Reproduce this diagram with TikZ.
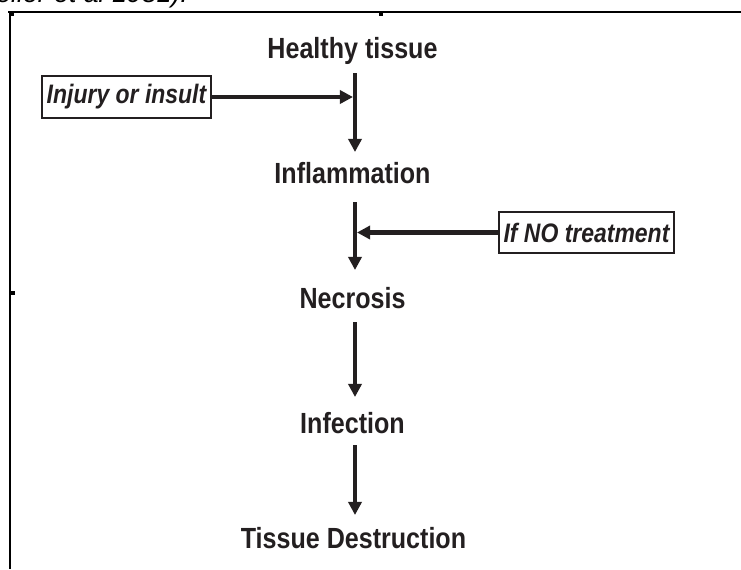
\documentclass[tikz,border=0pt]{standalone}
\usepackage{fontspec}
\setmainfont{Liberation Sans}[FakeStretch=0.86]
\newfontfamily\citefont{Liberation Sans}
\usetikzlibrary{arrows.meta}
\definecolor{ink}{HTML}{231F20}
\tikzset{
  stage/.style={font=\fontsize{16.6}{18}\selectfont\bfseries, text=ink, anchor=base, inner sep=0pt},
  aside/.style={draw=ink, line width=0.6pt, font=\fontsize{15.2}{18}\selectfont\bfseries\itshape, text=ink,
    inner sep=0pt},
  flow/.style={draw=ink, line width=2.5pt, arrows={-{Triangle[width=7.5pt,length=7.5pt]}}},
  frame/.style={line width=0.7pt},
}
\begin{document}
\begin{tikzpicture}[x=0.02cm,y=-0.02cm]
  \useasboundingbox (0,0) rectangle (741,569);
  \clip (0,0) rectangle (741,569);

  % frame left over from the page
  \node[anchor=base west, inner sep=0pt, font=\citefont\fontsize{15.2}{18}\selectfont\itshape] (cite) at (-4,2.5) {oller et al 1981).};
  \draw[frame] (8,12) -- (741,12);
  \draw[frame] (10,12) -- (10,569);
  \fill (10,12) rectangle (14,16);
  \fill (379,12) rectangle (383,16);
  \fill (11,291) rectangle (15,295);

  % the stages
  \node[stage] (healthy) at (352.5,58) {Healthy tissue};
  \node[stage] (inflam) at (352.5,183) {Inflammation};
  \node[stage] (necro) at (352.5,308) {Necrosis};
  \node[stage] (infect) at (352.5,433) {Infection};
  \node[stage] (destroy) at (353.5,548) {Tissue Destruction};

  % side causes
  \node[aside, minimum width=3.38cm, minimum height=0.84cm] (injury) at (126.5,97) {Injury or insult};
  \node[aside, minimum width=3.5cm, minimum height=0.82cm] (notreat) at (586.5,232.5) {If NO treatment};

  \coordinate (s1) at (355,73);  \coordinate (e1) at (355,152);
  \coordinate (s2) at (355,202); \coordinate (e2) at (355,270);
  \coordinate (s3) at (355,322); \coordinate (e3) at (355,397);
  \coordinate (s4) at (355,445); \coordinate (e4) at (355,515);
  \coordinate (hit1) at (353,97);
  \coordinate (hit2) at (357,232.5);

  \draw[flow] (s1) -- (e1);
  \draw[flow] (s2) -- (e2);
  \draw[flow] (s3) -- (e3);
  \draw[flow] (s4) -- (e4);
  \draw[flow] (injury) -- (hit1);
  \draw[flow] (notreat) -- (hit2);
\end{tikzpicture}
\end{document}
